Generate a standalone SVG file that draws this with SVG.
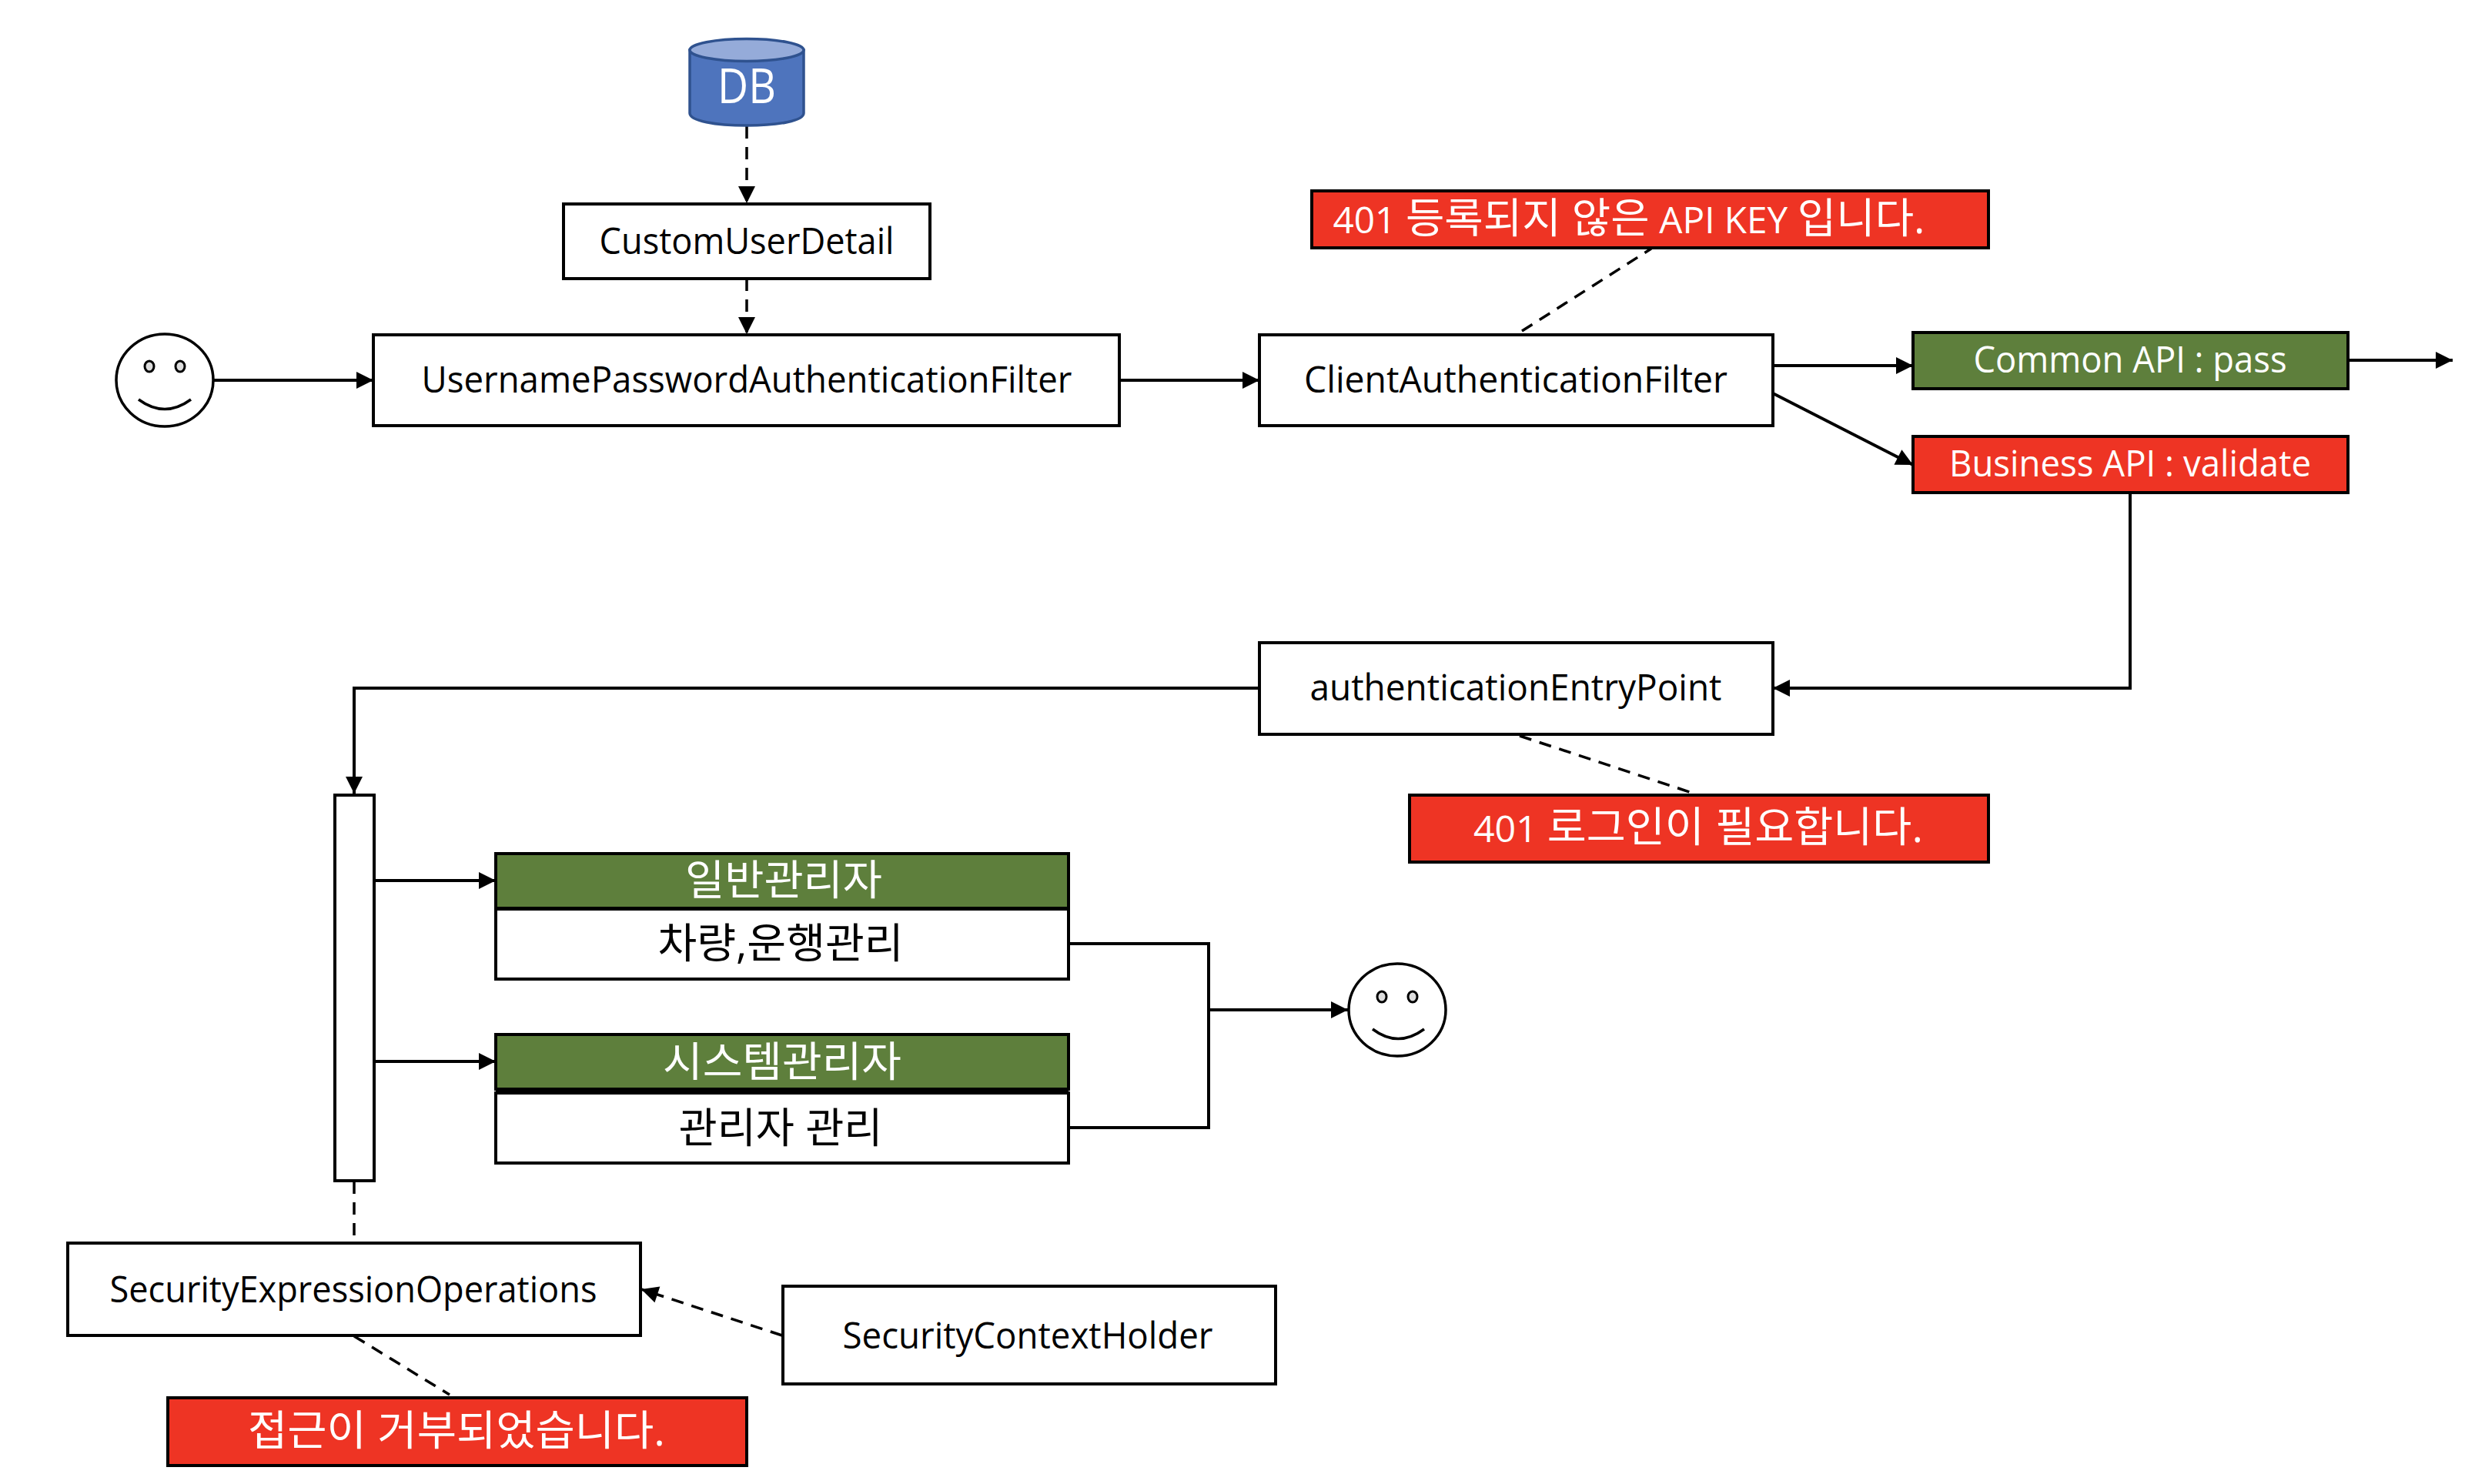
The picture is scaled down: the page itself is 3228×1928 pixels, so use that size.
<svg xmlns="http://www.w3.org/2000/svg" width="3228" height="1928" viewBox="0 0 3228 1928">
<style>
text{font-family:"Open Sans","Noto Sans CJK KR",sans-serif;font-size:48px;text-anchor:middle;fill:#000}
.w{fill:#fff}
.k{font-size:54px}
.l{font-size:47px}
.box{fill:#fff;stroke:#000;stroke-width:4}
.red{fill:#EE3424;stroke:#000;stroke-width:4}
.grn{fill:#5E7F3C;stroke:#000;stroke-width:4}
.c{fill:none;stroke:#000;stroke-width:4}
.d{fill:none;stroke:#000;stroke-width:3.5;stroke-dasharray:16 11}
.face{fill:#fff;stroke:#000;stroke-width:3.5}
.eye{fill:#ddd;stroke:#000;stroke-width:3}
.smile{fill:none;stroke:#000;stroke-width:3.5}
</style>
<defs>
<marker id="a" markerUnits="userSpaceOnUse" markerWidth="24" markerHeight="24" viewBox="0 0 24 24" refX="23" refY="12" orient="auto"><path d="M1 1L23 12L1 23z" fill="#000"/></marker>
</defs>
<g id="connectors">
<path class="d" d="M970 164V264" marker-end="url(#a)"/>
<path class="d" d="M970 362V434" marker-end="url(#a)"/>
<path class="c" d="M278 494H485" marker-end="url(#a)"/>
<path class="c" d="M1454 494H1636" marker-end="url(#a)"/>
<path class="d" d="M1977 430L2145 323"/>
<path class="c" d="M2303 475H2485" marker-end="url(#a)"/>
<path class="c" d="M2303 511L2485 604" marker-end="url(#a)"/>
<path class="c" d="M3050 468H3186" marker-end="url(#a)"/>
<path class="c" d="M2767 641V894H2303" marker-end="url(#a)"/>
<path class="d" d="M1974 956L2204 1032"/>
<path class="c" d="M1636 894H460V1031" marker-end="url(#a)"/>
<path class="c" d="M486 1144H644" marker-end="url(#a)"/>
<path class="c" d="M486 1379H644" marker-end="url(#a)"/>
<path class="c" d="M1388 1226H1570V1465H1388"/>
<path class="c" d="M1570 1312H1751" marker-end="url(#a)"/>
<path class="d" d="M460 1535V1614"/>
<path class="d" d="M460 1736L584 1812"/>
<path class="d" d="M1016 1735L833 1675" marker-end="url(#a)"/>
</g>
<g id="db">
<path d="M896 65V147C896 157 929 163 970 163S1044 157 1044 147V65z" fill="#4E74BD" stroke="#2F528F" stroke-width="3.5"/>
<ellipse cx="970" cy="65" rx="74" ry="14.500" fill="#95ABD9" stroke="#2F528F" stroke-width="3.5"/>
<text class="w" x="970" y="134" style="font-size:62px" textLength="76" lengthAdjust="spacingAndGlyphs">DB</text>
</g>
<g id="custom-user-detail"><rect class="box" x="732" y="265" width="476" height="97"/><text x="970" y="330" textLength="383" lengthAdjust="spacingAndGlyphs">CustomUserDetail</text></g>
<g id="user-left"><ellipse class="face" cx="214" cy="494" rx="63" ry="60"/><ellipse class="eye" cx="194" cy="476" rx="6" ry="7"/><ellipse class="eye" cx="234" cy="476" rx="6" ry="7"/><path class="smile" d="M180 519Q214 544 248 519"/></g>
<g id="username-filter"><rect class="box" x="485" y="435" width="969" height="118"/><text x="970" y="510" textLength="845" lengthAdjust="spacingAndGlyphs">UsernamePasswordAuthenticationFilter</text></g>
<g id="client-filter"><rect class="box" x="1636" y="435" width="667" height="118"/><text x="1969" y="510" textLength="550" lengthAdjust="spacingAndGlyphs">ClientAuthenticationFilter</text></g>
<g id="msg-apikey"><rect class="red" x="1704" y="248" width="879" height="74"/><text class="w" x="2116" y="303" textLength="769" lengthAdjust="spacingAndGlyphs"><tspan class="l">401</tspan> <tspan class="k">등록되지 않은</tspan> <tspan class="l">API KEY</tspan> <tspan class="k">입니다.</tspan></text></g>
<g id="common-api"><rect class="grn" x="2485" y="432" width="565" height="73"/><text class="w" x="2767" y="484" textLength="407" lengthAdjust="spacingAndGlyphs">Common API : pass</text></g>
<g id="business-api"><rect class="red" x="2485" y="567" width="565" height="73"/><text class="w" x="2767" y="619" textLength="470" lengthAdjust="spacingAndGlyphs">Business API : validate</text></g>
<g id="entry-point"><rect class="box" x="1636" y="835" width="667" height="119"/><text x="1969" y="910" textLength="535" lengthAdjust="spacingAndGlyphs">authenticationEntryPoint</text></g>
<g id="msg-login"><rect class="red" x="1831" y="1033" width="752" height="87"/><text class="w" x="2206" y="1094" textLength="584" lengthAdjust="spacingAndGlyphs"><tspan class="l">401</tspan> <tspan class="k">로그인이 필요합니다.</tspan></text></g>
<g id="bar"><rect class="box" x="435" y="1033" width="51" height="501"/></g>
<g id="role-general"><rect class="grn" x="644" y="1109" width="744" height="71"/><rect class="box" x="644" y="1181" width="744" height="91"/><text class="w k" x="1018" y="1163" textLength="256" lengthAdjust="spacingAndGlyphs">일반관리자</text><text class="k" x="1014" y="1245" textLength="319" lengthAdjust="spacingAndGlyphs">차량,운행관리</text></g>
<g id="role-system"><rect class="grn" x="644" y="1344" width="744" height="71"/><rect x="644" y="1413" width="744" height="7" fill="#000"/><rect class="box" x="644" y="1420" width="744" height="91"/><text class="w k" x="1016" y="1399" textLength="310" lengthAdjust="spacingAndGlyphs">시스템관리자</text><text class="k" x="1014" y="1485" textLength="265" lengthAdjust="spacingAndGlyphs">관리자 관리</text></g>
<g id="user-right"><ellipse class="face" cx="1815" cy="1312" rx="63" ry="60"/><ellipse class="eye" cx="1795" cy="1295" rx="6" ry="7"/><ellipse class="eye" cx="1835" cy="1295" rx="6" ry="7"/><path class="smile" d="M1783 1337Q1816 1362 1850 1337"/></g>
<g id="security-ops"><rect class="box" x="88" y="1615" width="744" height="120"/><text x="459" y="1692" textLength="633" lengthAdjust="spacingAndGlyphs">SecurityExpressionOperations</text></g>
<g id="context-holder"><rect class="box" x="1017" y="1671" width="640" height="127"/><text x="1335" y="1752" textLength="481" lengthAdjust="spacingAndGlyphs">SecurityContextHolder</text></g>
<g id="msg-denied"><rect class="red" x="218" y="1816" width="752" height="88"/><text class="w k" x="593" y="1878" textLength="542" lengthAdjust="spacingAndGlyphs">접근이 거부되었습니다.</text></g>
</svg>
